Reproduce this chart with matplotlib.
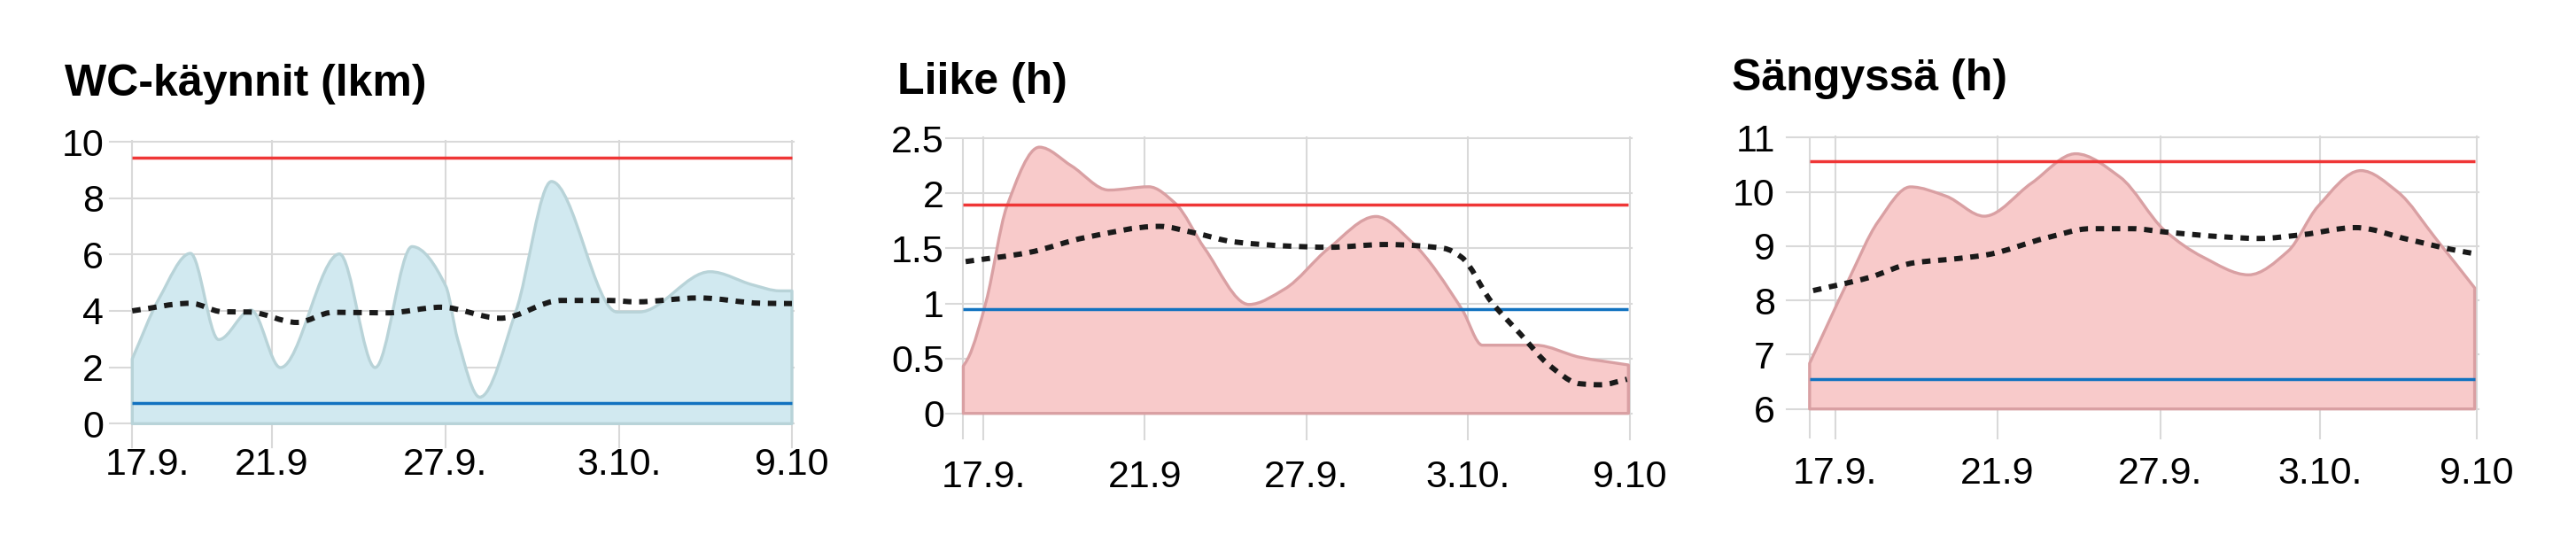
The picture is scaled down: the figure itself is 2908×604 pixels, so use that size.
import numpy as np
import matplotlib
matplotlib.use("Agg")
import matplotlib.pyplot as plt
from matplotlib.path import Path
from matplotlib.patches import PathPatch
from matplotlib.transforms import ScaledTranslation

plt.rcParams['font.family'] = ['Liberation Sans', 'DejaVu Sans']

# x = päiviä 17.9. jälkeen (kuten kuvaajan asteikko näyttää)
x_labels = ["17.9.", "21.9", "27.9.", "3.10.", "9.10"]

# WC-käynnit (lkm)
wc_x = [0, 0.9, 1.94, 2.88, 3.96, 4.94, 6.91, 8.1, 9.33, 10.46, 10.85, 11.59,
        12.8, 13.98, 16.17, 16.9, 19.27, 20.7, 21.6, 22]
wc_y = [2.30, 4.45, 6.04, 2.98, 4.03, 1.99, 6.02, 1.99, 6.28, 4.87, 3.0, 0.94,
        4.0, 8.59, 3.96, 3.96, 5.39, 4.92, 4.71, 4.71]
wc_trend_x = [0, 1.94, 3.0, 3.9, 5.49, 6.7, 8.5, 10.3, 12.28, 14.3, 15.9, 16.8, 18.9, 21.0, 22]
wc_trend_y = [4.0, 4.27, 3.97, 3.96, 3.59, 3.95, 3.93, 4.13, 3.74, 4.37, 4.37, 4.32, 4.46, 4.27, 4.26]
wc_upper = 9.44
wc_lower = 0.74
wc_yticks = [0, 2, 4, 6, 8, 10]
wc_xticks = [0, 4.65, 10.44, 16.24, 22]

# Liike (h)
li_x = [-0.68, -0.5, 0.1, 0.8, 1.91, 3.0, 4.27, 5.63, 6.53, 7.53, 9.04, 10.25,
        11.75, 13.36, 14.57, 16.3, 16.98, 18.79, 20.3, 21.95]
li_y = [0.43, 0.51, 1.02, 1.88, 2.42, 2.25, 2.03, 2.06, 1.91, 1.50, 0.99, 1.13,
        1.50, 1.79, 1.56, 0.94, 0.62, 0.62, 0.51, 0.44]
li_trend_x = [-0.6, 1.5, 3.5, 5.98, 7.2, 8.5, 10.45, 11.75, 13.66, 15.67, 16.27,
              17.27, 18.28, 19.29, 20.29, 21.0, 21.9]
li_trend_y = [1.38, 1.46, 1.60, 1.70, 1.64, 1.56, 1.52, 1.51, 1.535, 1.50, 1.42,
              1.02, 0.72, 0.43, 0.27, 0.26, 0.31]
li_upper = 1.90
li_lower = 0.95
li_yticks = [0, 0.5, 1, 1.5, 2, 2.5]
li_xticks = [0, 5.5, 11.0, 16.5, 22]

# Sängyssä (h)
sa_x = [-0.87, 0.45, 1.46, 2.56, 3.77, 5.07, 6.68, 8.18, 9.69, 11.2, 12.5, 14.06,
        15.41, 16.42, 17.88, 19.13, 20.44, 21.75]
sa_y = [6.84, 8.37, 9.45, 10.09, 9.92, 9.55, 10.16, 10.70, 10.27, 9.29, 8.80, 8.47,
        8.91, 9.73, 10.39, 10.0, 9.13, 8.23]
sa_trend_x = [-0.75, 1.15, 2.66, 4.17, 5.17, 7.18, 8.69, 10.1, 11.2, 13.2, 14.4,
              15.9, 17.7, 19.43, 20.94, 21.74]
sa_trend_y = [8.18, 8.42, 8.69, 8.77, 8.84, 9.15, 9.32, 9.32, 9.26, 9.17, 9.14,
              9.21, 9.34, 9.13, 8.94, 8.86]
sa_upper = 10.56
sa_lower = 6.545
sa_yticks = [6, 7, 8, 9, 10, 11]
sa_xticks = [0, 5.52, 11.06, 16.5, 21.83]

W, H = 2908, 604


def slopes(x, y):
    x = np.asarray(x, float)
    y = np.asarray(y, float)
    h = np.diff(x)
    d = np.diff(y) / h
    m = np.zeros(len(x))
    m[0] = d[0]
    m[-1] = d[-1]
    for i in range(1, len(x) - 1):
        if d[i - 1] * d[i] <= 0:
            m[i] = 0
        else:
            w1 = 2 * h[i] + h[i - 1]
            w2 = h[i] + 2 * h[i - 1]
            m[i] = (w1 + w2) / (w1 / d[i - 1] + w2 / d[i])
    return m


# pehmeä käyrä bezier-paloina (kuten alkuperäisessä kaaviossa)
def curve_path(x, y, base=None):
    m = slopes(x, y)
    verts = [(x[0], y[0])]
    codes = [Path.MOVETO]
    for i in range(len(x) - 1):
        h = x[i + 1] - x[i]
        verts += [(x[i] + h / 3, y[i] + m[i] * h / 3),
                  (x[i + 1] - h / 3, y[i + 1] - m[i + 1] * h / 3),
                  (x[i + 1], y[i + 1])]
        codes += [Path.CURVE4] * 3
    if base is not None:
        verts += [(x[-1], base), (x[0], base), (x[0], y[0])]
        codes += [Path.LINETO, Path.LINETO, Path.CLOSEPOLY]
    return Path(verts, codes)


def panel(fig, box, mapping, title, title_pos, x, y, tx, ty, upper, lower,
          yticks, ylabels, xticks, base, fill, edge, ypad, xpad):
    left, right, top, bottom = box
    x0px, ppd, v0, y0px, ppu = mapping
    ax = fig.add_axes([left / W, 1 - bottom / H, (right - left) / W, (bottom - top) / H])
    ax.set_xlim((left - x0px) / ppd, (right - x0px) / ppd)
    ax.set_ylim(v0 + (y0px - bottom) / ppu, v0 + (y0px - top) / ppu)
    for s in ax.spines.values():
        s.set_visible(False)

    ax.set_xticks(xticks)
    ax.set_xticklabels(x_labels)
    if x[0] < xticks[0] - 0.1:
        ax.set_xticks([x[0]], minor=True)
    ax.set_yticks(yticks)
    ax.set_yticklabels(ylabels)
    ax.grid(True, which='both', color='#d9d9d9', lw=1.5)
    ax.set_axisbelow(True)
    ax.tick_params(which='both', length=0, labelsize=31, colors='black')
    ax.tick_params(axis='y', pad=ypad)
    ax.tick_params(axis='x', pad=xpad)
    for ln in ax.get_xgridlines() + ax.get_ygridlines():
        ln.set_clip_on(False)

    ax.add_patch(PathPatch(curve_path(x, y, base), facecolor=fill, edgecolor=edge,
                           lw=2.4, zorder=2, joinstyle='round'))
    ax.plot([x[0], x[-1]], [upper, upper], color='#ef3636', lw=2.5, zorder=3,
            solid_capstyle='butt')
    ax.plot([x[0], x[-1]], [lower, lower], color='#1172c0', lw=2.5, zorder=3,
            solid_capstyle='butt')
    ax.add_patch(PathPatch(curve_path(tx, ty), fill=False, edgecolor='#1a1a1a',
                           lw=4.3, ls=(0, (1.6, 1.45)), capstyle='butt', zorder=4))

    fig.text(title_pos[0] / W, 1 - title_pos[1] / H, title, fontsize=36,
             fontweight='bold', va='baseline', ha='left')
    return ax


fig = plt.figure(figsize=(W / 100, H / 100), dpi=100)

ax1 = panel(fig, (124, 896, 159, 505), (149.3, 33.85, 0, 478.3, 31.83),
            "WC-käynnit (lkm)", (73, 108), wc_x, wc_y, wc_trend_x, wc_trend_y,
            wc_upper, wc_lower, wc_yticks, [str(v) for v in wc_yticks], wc_xticks,
            0, '#d1e9f0', '#b8d3d8', 5, 0)
ax2 = panel(fig, (1068, 1842, 155, 495.5), (1110, 33.18, 0, 466.7, 124.2),
            "Liike (h)", (1013, 106), li_x, li_y, li_trend_x, li_trend_y,
            li_upper, li_lower, li_yticks, ["0", "0.5", "1", "1.5", "2", "2.5"], li_xticks,
            0, '#f8caca', '#d9a0a3', 1.5, 17)
ax3 = panel(fig, (2017, 2798, 154, 495), (2071.7, 33.19, 6, 461.7, 61.3),
            "Sängyssä (h)", (1955, 102), sa_x, sa_y, sa_trend_x, sa_trend_y,
            sa_upper, sa_lower, sa_yticks, [str(v) for v in sa_yticks], sa_xticks,
            6, '#f8caca', '#d9a0a3', 9.5, 14.4)

# ensimmäinen päivämäärä on alkuperäisessä hieman oikealla
lab = ax1.get_xticklabels()[0]
lab.set_transform(lab.get_transform() + ScaledTranslation(0.17, 0, fig.dpi_scale_trans))

fig.savefig("out.png", dpi=100)
